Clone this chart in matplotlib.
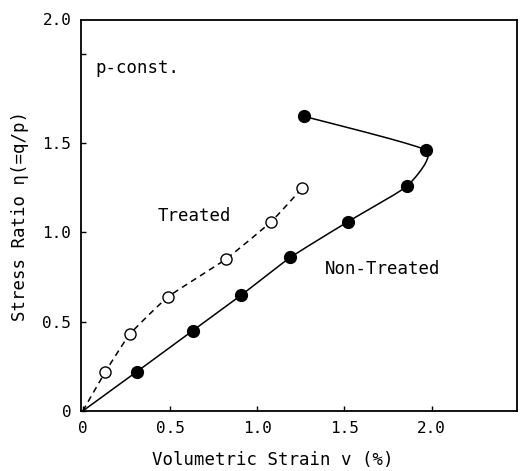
import numpy as np
import matplotlib
matplotlib.use("Agg")
import matplotlib.pyplot as plt

# Data
nontreated_v = [0.0, 0.31, 0.63, 0.91, 1.19, 1.52, 1.86, 1.97, 1.27]
nontreated_eta = [0.0, 0.22, 0.45, 0.65, 0.86, 1.06, 1.26, 1.46, 1.65]
treated_v = [0.0, 0.13, 0.27, 0.49, 0.82, 1.08, 1.26]
treated_eta = [0.0, 0.22, 0.43, 0.64, 0.85, 1.06, 1.25]

x_ticks = [0, 0.5, 1.0, 1.5, 2.0]
x_ticklabels = ["0", "0.5", "1.0", "1.5", "2.0"]
y_ticks = [0, 0.5, 1.0, 1.5, 2.0]
y_ticklabels = ["0", "0.5", "1.0", "1.5", ""]


def smooth(x, y, tension=0.5, n=20):
    """Cardinal-spline rendering of the connecting curve through the data points."""
    x = np.asarray(x, float)
    y = np.asarray(y, float)
    px = np.concatenate([[x[0]], x, [x[-1]]])
    py = np.concatenate([[y[0]], y, [y[-1]]])
    ox, oy = [], []
    t = np.linspace(0, 1, n, endpoint=False)
    h00 = 2 * t ** 3 - 3 * t ** 2 + 1
    h10 = t ** 3 - 2 * t ** 2 + t
    h01 = -2 * t ** 3 + 3 * t ** 2
    h11 = t ** 3 - t ** 2
    s = (1 - tension) / 2
    for i in range(1, len(px) - 2):
        for arr, out in ((px, ox), (py, oy)):
            p0, p1, p2, p3 = arr[i - 1], arr[i], arr[i + 1], arr[i + 2]
            m1 = s * (p2 - p0)
            m2 = s * (p3 - p1)
            out.extend(h00 * p1 + h10 * m1 + h01 * p2 + h11 * m2)
    ox.append(x[-1])
    oy.append(y[-1])
    return np.array(ox), np.array(oy)


plt.rcParams['font.family'] = ['DejaVu Sans Mono']

fig = plt.figure(figsize=(5.24, 4.71), dpi=100)
ax = fig.add_axes([0.1546, 0.1274, 0.8320, 0.8301])

sx, sy = smooth(nontreated_v, nontreated_eta, tension=0.5)
ax.plot(sx, sy, color='black', lw=1.1, ls='-')
ax.plot(nontreated_v[1:], nontreated_eta[1:], ls='none', marker='o',
        ms=8.5, mfc='black', mec='black', zorder=3)

tx, ty = smooth(treated_v, treated_eta, tension=0.6)
ax.plot(tx, ty, color='black', lw=1.1, ls=(0, (4, 3)))
ax.plot(treated_v[1:], treated_eta[1:], ls='none', marker='o',
        ms=8.0, mfc='white', mec='black', mew=1.0, zorder=3)

ax.set_xlim(-0.01, 2.49)
ax.set_ylim(0, 2.19)

ax.set_xticks(x_ticks)
ax.set_xticklabels(x_ticklabels)
ax.set_yticks(y_ticks)
ax.set_yticklabels(y_ticklabels)
ax.tick_params(direction='in', length=3.5, width=1.0, labelsize=11.5, pad=7)

ax.text(-0.022, 1.0, "2.0", transform=ax.transAxes, ha='right', va='center',
        fontsize=11.5)

for s in ax.spines.values():
    s.set_linewidth(1.3)

ax.set_xlabel("Volumetric Strain v (%)", fontsize=12.5)
ax.xaxis.set_label_coords(0.44, -0.103)
ax.set_ylabel("Stress Ratio η(=q/p)", fontsize=12.5)
ax.yaxis.set_label_coords(-0.12, 0.5)

ax.text(0.07, 1.92, "p-const.", fontsize=12.5, va='center', ha='left')
ax.text(0.43, 1.09, "Treated", fontsize=12.5, va='center', ha='left')
ax.text(1.39, 0.795, "Non-Treated", fontsize=12.5, va='center', ha='left')

fig.savefig("out.png", dpi=100)
